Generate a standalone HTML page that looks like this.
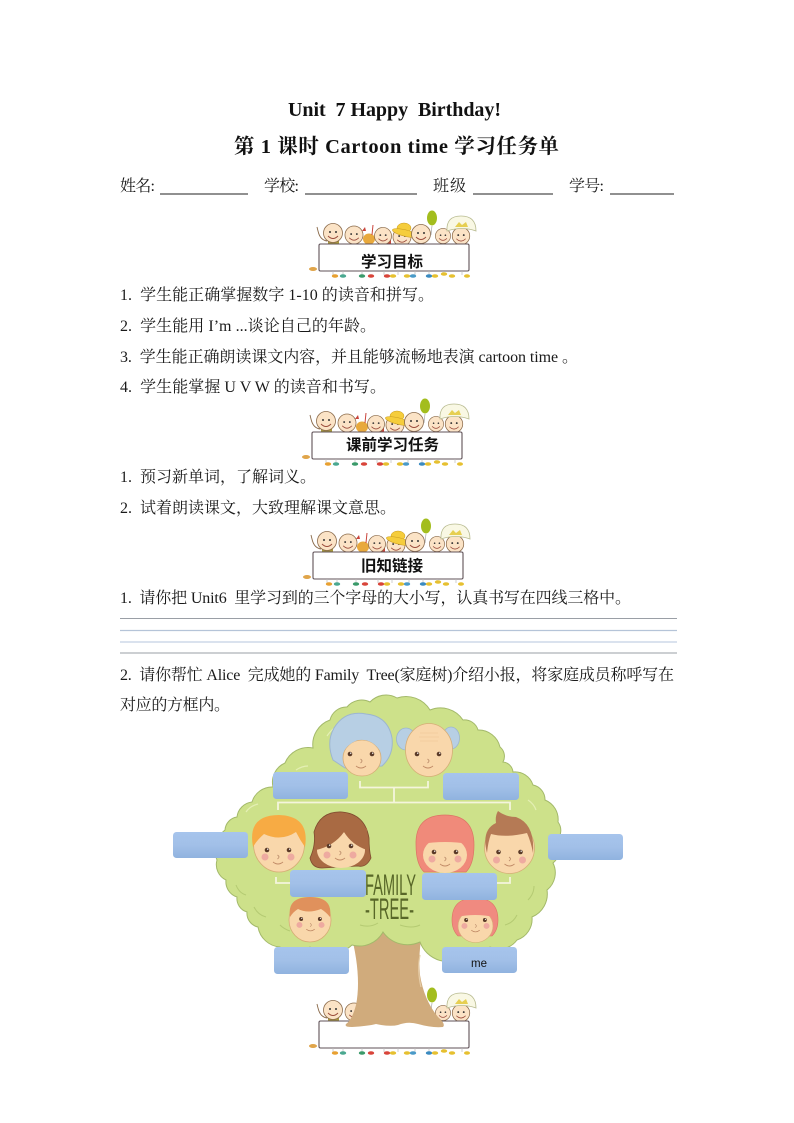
<!DOCTYPE html>
<html lang="zh">
<head>
<meta charset="utf-8">
<title>Unit 7 Happy Birthday</title>
<style>
html,body{margin:0;padding:0;background:#fff}
svg{display:block}
text{white-space:pre}
.b{font-family:"Liberation Serif","Noto Serif CJK SC",serif;font-size:16px;fill:#1a1a1a}
.t{font-family:"Liberation Serif","Noto Serif CJK SC",serif;font-weight:bold;fill:#111}
.h{font-family:"Liberation Serif","Noto Sans CJK SC",sans-serif;font-weight:bold;font-size:15.5px;fill:#111;text-anchor:middle}
</style>
</head>
<body>
<svg width="794" height="1123" viewBox="0 0 794 1123" xmlns="http://www.w3.org/2000/svg">
<defs>
<linearGradient id="bx" x1="0" y1="0" x2="0" y2="1">
  <stop offset="0" stop-color="#a6c4ec"/><stop offset=".5" stop-color="#a2c0e8"/><stop offset="1" stop-color="#90b3df"/>
</linearGradient>
<g id="ft">
  <circle cx="-11" cy="0" r="2.300" fill="#5a3a28"/><circle cx="11" cy="0" r="2.300" fill="#5a3a28"/>
  <circle cx="-10.300" cy="-.8" r=".7" fill="#fff"/><circle cx="11.700" cy="-.8" r=".7" fill="#fff"/>
  <path d="M-.5 5q3 2 0 4" fill="none" stroke="#b98a6a" stroke-width=".8"/>
  <path d="M-5 12q5 4 10 0" fill="none" stroke="#c08a66" stroke-width=".9"/>
</g>
<g id="ck">
  <circle cx="-13" cy="7" r="3.500" fill="#eeaaa0"/><circle cx="13" cy="7" r="3.500" fill="#eeaaa0"/>
</g>
<g id="kid"><circle r="9.500" fill="#fbe3c6" stroke="#8a6a4a" stroke-width=".8"/>
  <circle cx="-3" cy="-1" r="1" fill="#333"/><circle cx="3" cy="-1" r="1" fill="#333"/>
  <path d="M-5 3q5 5 10 0" fill="none" stroke="#9a4a3a" stroke-width=".9"/></g>
<g id="banner">
  <path d="M-1 -13l-1 -4M-1 -13q2 9 9 10" fill="none" stroke="#8a6a4a" stroke-width=".9"/>
  <rect x="9" y="-4" width="11" height="4" fill="#a89a3c"/>
  <rect x="62" y="-4" width="10" height="4" fill="#c9433a"/>
  <use href="#kid" x="14" y="-11"/>
  <g transform="translate(35 -9) scale(.95)"><use href="#kid"/></g>
  <path d="M43 -13l3 -4l1 4z" fill="#c9433a"/>
  <ellipse cx="50" cy="-5" rx="6" ry="5.500" fill="#e8a93c"/>
  <path d="M53 -9l1 -10" stroke="#c9433a" stroke-width="1"/>
  <g transform="translate(64 -8) scale(.9)"><use href="#kid"/></g>
  <g transform="translate(83 -7) scale(.95)"><use href="#kid"/></g>
  <ellipse cx="85" cy="-16" rx="7" ry="5" fill="#f5cd3c" stroke="#c99a20" stroke-width=".5"/>
  <ellipse cx="86" cy="-11" rx="13" ry="3.200" fill="#f5cd3c" stroke="#c99a20" stroke-width=".5" transform="rotate(14 86 -11)"/>
  <use href="#kid" x="102" y="-10"/>
  <g transform="translate(124 -8) scale(.8)"><use href="#kid"/></g>
  <g transform="translate(142 -8) scale(.92)"><use href="#kid"/></g>
  <path d="M128 -13q-1 -15 14 -15q15 0 15 15q-14 -5 -29 0z" fill="#f9f8e4" stroke="#b8bb90" stroke-width=".8"/>
  <path d="M136 -17l4 -5l3 3l4 -3l2 5z" fill="#e6cf52"/>
  <ellipse cx="113" cy="-26" rx="5" ry="7.500" fill="#a3bd1e"/>
  <path d="M113 -18l-1 9" stroke="#999" stroke-width=".6"/>
  <rect x="0" y="0" width="150" height="27" rx="1.500" fill="#fff" stroke="#5f5157" stroke-width="1.100"/>
  <ellipse cx="-6" cy="25" rx="4" ry="2" fill="#e0a54a"/>
  <path d="M14 27v4M24 27v4M43 27v4M65 27v4M79 27v4M96 27v4M110 27v4M124 27v4M143 27v4" stroke="#bbb" stroke-width=".7" fill="none"/>
  <g>
    <ellipse cx="16" cy="32" rx="3.200" ry="1.800" fill="#e8a030"/><ellipse cx="24" cy="32" rx="3.200" ry="1.800" fill="#4aa890"/>
    <ellipse cx="43" cy="32" rx="3.200" ry="1.800" fill="#3a9a6a"/><ellipse cx="52" cy="32" rx="3.200" ry="1.800" fill="#d8443a"/>
    <ellipse cx="68" cy="32" rx="3.200" ry="1.800" fill="#d8443a"/><ellipse cx="74" cy="32" rx="3.200" ry="1.800" fill="#e6c030"/>
    <ellipse cx="88" cy="32" rx="3.200" ry="1.800" fill="#e6c030"/><ellipse cx="94" cy="32" rx="3.200" ry="1.800" fill="#4a9ac8"/>
    <ellipse cx="110" cy="32" rx="3.200" ry="1.800" fill="#3a8ac0"/><ellipse cx="116" cy="32" rx="3.200" ry="1.800" fill="#e6c030"/>
    <ellipse cx="125" cy="30" rx="3.200" ry="1.800" fill="#e6c030"/><ellipse cx="133" cy="32" rx="3.200" ry="1.800" fill="#e6c030"/>
    <ellipse cx="148" cy="32" rx="3" ry="1.800" fill="#e6c030"/>
  </g>
</g>
</defs>

<!-- headings -->
<text class="t" x="288" y="116" font-size="20" textLength="213" lengthAdjust="spacing">Unit  7 Happy  Birthday!</text>
<text class="t" x="234" y="153" font-size="20.500" textLength="325" lengthAdjust="spacing">第 1 课时 Cartoon time 学习任务单</text>

<!-- info line -->
<text class="b" x="120" y="191" textLength="35">姓名:</text>
<text class="b" x="264" y="191" textLength="35">学校:</text>
<text class="b" x="433" y="191" textLength="33">班级</text>
<text class="b" x="569" y="191" textLength="35">学号:</text>
<path d="M160 194H248M305 194H417M473 194H553M610 194H674" stroke="#222" stroke-width="1" fill="none"/>

<!-- banners -->
<use href="#banner" x="319" y="244"/>
<text class="h" x="392" y="267">学习目标</text>
<use href="#banner" x="312" y="432"/>
<text class="h" x="392.500" y="450">课前学习任务</text>
<use href="#banner" x="313" y="552"/>
<text class="h" x="392" y="571">旧知链接</text>
<use href="#banner" x="319" y="1021"/>

<!-- body text -->
<text class="b" x="120" y="300" textLength="314">1.  学生能正确掌握数字 1-10 的读音和拼写。</text>
<text class="b" x="120" y="331" textLength="256">2.  学生能用 I’m ...谈论自己的年龄。</text>
<text class="b" x="120" y="362" textLength="458">3.  学生能正确朗读课文内容，并且能够流畅地表演 cartoon time 。</text>
<text class="b" x="120" y="392" textLength="266">4.  学生能掌握 U V W 的读音和书写。</text>
<text class="b" x="120" y="482" textLength="196">1.  预习新单词，了解词义。</text>
<text class="b" x="120" y="513" textLength="276">2.  试着朗读课文，大致理解课文意思。</text>
<text class="b" x="120" y="603" textLength="511">1.  请你把 Unit6  里学习到的三个字母的大小写，认真书写在四线三格中。</text>
<text class="b" x="120" y="680" textLength="554">2.  请你帮忙 Alice  完成她的 Family  Tree(家庭树)介绍小报，将家庭成员称呼写在</text>
<text class="b" x="120" y="710" textLength="110">对应的方框内。</text>

<!-- four lines -->
<path d="M120 618.500H677" stroke="#9a9fa6" stroke-width="1"/>
<path d="M120 630.500H677" stroke="#b5c4d8" stroke-width="1.200"/>
<path d="M120 642H677" stroke="#c3d1e4" stroke-width="1.200"/>
<path d="M120 653H677" stroke="#9a9fa6" stroke-width="1"/>

<!-- trunk -->
<path d="M350 930 Q362 975 356 1005 Q352 1020 346 1024 Q344 1027 352 1027 Q368 1026 376 1024 Q390 1027 398 1025 Q408 1021 418 1024 Q432 1028 443 1027 Q446 1024 438 1017 Q424 1000 420 975 Q418 950 423 930 Z" fill="#d0ab7c"/>
<path d="M420 955q-3 15 1 32" fill="none" stroke="#e6cda8" stroke-width="1.200"/>

<!-- canopy -->
<path d="M225 830 A14 14 0 0 1 237 817 A17 17 0 0 1 252 802 A21 21 0 0 1 273 787 A21 21 0 0 1 285 763 A25 25 0 0 1 313 748 A26 26 0 0 1 330 720 A17 17 0 0 1 347 707 A19 19 0 0 1 370 702 A22 22 0 0 1 397 698 A28 28 0 0 1 430 710 A27 27 0 0 1 463 720 A14 14 0 0 1 478 730 A22 22 0 0 1 500 747 A12 12 0 0 1 503 762 A11 11 0 0 1 513 772 A19 19 0 0 1 533 785 A15 15 0 0 1 545 800 A21 21 0 0 1 558 822 A14 14 0 0 1 557 840 A18 18 0 0 1 553 863 A22 22 0 0 1 547 890 A25 25 0 0 1 532 917 A22 22 0 0 1 517 940 A22 22 0 0 1 490 947 A19 19 0 0 1 467 955 A30 30 0 0 1 420 942 A30 30 0 0 1 383 932 A27 27 0 0 1 352 945 A33 33 0 0 1 310 947 A24 24 0 0 1 280 947 A24 24 0 0 1 258 927 A14 14 0 0 1 247 912 A14 14 0 0 1 237 897 A16 16 0 0 1 226 880 A17 17 0 0 1 217 860 A25 25 0 0 1 225 830 Z" fill="#cde18a" stroke="#a3b96a" stroke-width="1"/>
<g fill="none" stroke="#b4ca72" stroke-width="1">
  <path d="M236 885q3 8 10 10M254 907q4 8 12 10M280 925q4 4 10 6M360 925q10 3 18 -2M400 925q12 4 20 0M505 925q8 -2 12 -10M528 900q6 -6 6 -14"/>
</g>
<g fill="none" stroke="#e4efb4" stroke-width="1.200">
  <path d="M246 812q4 -6 12 -8M296 770q6 -4 12 -4M327 736q4 -6 10 -10M528 800q6 4 8 10"/>
</g>

<!-- connectors -->
<g fill="none" stroke="#f4f5dc" stroke-width="1.800">
  <path d="M360 781V787.500H428V781M394 787.500V802M278 810V802.500H510V810"/>
  <path d="M276 877V883H292M495 883H510V877"/>
</g>

<!-- FAMILY TREE -->
<text x="365" y="895" font-family="Liberation Sans,sans-serif" font-size="30" fill="#586728" textLength="51" lengthAdjust="spacingAndGlyphs">FAMILY</text>
<text x="365" y="919" font-family="Liberation Sans,sans-serif" font-size="30" fill="#586728" textLength="49" lengthAdjust="spacingAndGlyphs">-TREE-</text>

<!-- grandma -->
<path d="M333 760 Q326 742 334 728 Q345 710 366 714 Q388 716 392 738 Q394 755 382 766 L345 768 Z" fill="#b7cfe4" stroke="#9db6cf" stroke-width="1"/>
<ellipse cx="362" cy="758" rx="19" ry="18" fill="#f9d7ab" stroke="#d6ad76" stroke-width=".8"/>
<path d="M343 753 Q347 744 358 740 Q372 738 381 752 L384 732 L342 732 Z" fill="#b7cfe4"/>
<use href="#ft" x="361" y="754"/>

<!-- grandpa -->
<ellipse cx="406" cy="739" rx="9.500" ry="11" fill="#b7cfe4" stroke="#9db6cf" stroke-width=".8"/>
<ellipse cx="451" cy="738" rx="8.500" ry="11" fill="#b7cfe4" stroke="#9db6cf" stroke-width=".8"/>
<ellipse cx="429" cy="750" rx="23.500" ry="26.500" fill="#f9d7ab" stroke="#d6ad76" stroke-width=".8"/>
<path d="M420 733h18M419 737h20M420 741h18" stroke="#efc99c" stroke-width=".7" fill="none"/>
<use href="#ft" x="428" y="754"/>

<!-- dad (orange) -->
<ellipse cx="279" cy="844" rx="25.500" ry="28" fill="#f9d7ab" stroke="#d6ad76" stroke-width=".8"/>
<path d="M253 847 Q247 815 279 815 Q310 816 305 847 Q300 840 296 832 Q281 842 264 834 Q257 840 253 847Z" fill="#f7ab44"/>
<use href="#ck" x="278" y="850"/>
<use href="#ft" x="278" y="850"/>

<!-- mom (brown) -->
<path d="M310 858 Q316 845 314 832 Q320 811 342 812 Q365 814 369 838 Q369 850 371 858 Q366 868 358 866 L322 868 Q312 868 310 858Z" fill="#a96a43" stroke="#7f4c2f" stroke-width=".8"/>
<ellipse cx="341" cy="850" rx="24" ry="18" fill="#f9d7ab"/>
<path d="M316 850 Q334 846 344 832 Q352 845 367 850 L367 828 L316 828Z" fill="#a96a43"/>
<use href="#ck" x="340" y="848"/>
<use href="#ft" x="340" y="846"/>

<!-- aunt (pink) -->
<path d="M416 845 Q415 815 445 815 Q474 815 474 845 Q474 864 466 872 L424 872 Q416 864 416 845Z" fill="#f08a7a" stroke="#dc7464" stroke-width=".7"/>
<ellipse cx="445" cy="855" rx="22" ry="18" fill="#f9d7ab"/>
<path d="M421 844 Q445 840 469 844 L469 832 L421 832Z" fill="#f08a7a"/>
<use href="#ck" x="445" y="852"/>
<use href="#ft" x="445" y="852"/>

<!-- uncle -->
<ellipse cx="509.500" cy="848" rx="25" ry="25.500" fill="#f9d7ab" stroke="#d6ad76" stroke-width=".8"/>
<path d="M487 853 Q481 830 496 823 Q495 816 498 811 Q506 817 516 817 Q535 824 533 853 Q531 842 527 833 Q506 838 491 834 Q488 842 487 853Z" fill="#b57a55"/>
<use href="#ck" x="509.500" y="853"/>
<use href="#ft" x="509.500" y="852"/>

<!-- boy -->
<ellipse cx="310" cy="920" rx="21" ry="22" fill="#f9d7ab" stroke="#d6ad76" stroke-width=".8"/>
<path d="M290 917 Q287 897 310 897 Q333 897 330 917 Q326 912 321 909 Q308 914 298 909 Q293 912 290 917Z" fill="#e0915c"/>
<g transform="translate(310.500 919) scale(.85)"><use href="#ck"/><use href="#ft"/></g>

<!-- girl -->
<path d="M452 920 Q452 898 475 898 Q498 898 498 920 Q498 930 492 936 L458 936 Q452 930 452 920Z" fill="#f08a80" stroke="#dc7464" stroke-width=".6"/>
<ellipse cx="475.500" cy="926" rx="17.500" ry="16.500" fill="#f9d7ab" stroke="#d6ad76" stroke-width=".6"/>
<path d="M457 917 V906 H494 V917 Q475 913 457 917Z" fill="#f08a80"/>
<g transform="translate(475.500 920) scale(.85)"><use href="#ck"/><use href="#ft"/></g>

<!-- label boxes -->
<g fill="url(#bx)">
  <rect x="273" y="772" width="75" height="27" rx="3.500"/>
  <rect x="443" y="773" width="76" height="27" rx="3.500"/>
  <rect x="173" y="832" width="75" height="26" rx="3.500"/>
  <rect x="548" y="834" width="75" height="26" rx="3.500"/>
  <rect x="290" y="870" width="76" height="27" rx="3.500"/>
  <rect x="422" y="873" width="75" height="27" rx="3.500"/>
  <rect x="274" y="947" width="75" height="27" rx="3.500"/>
  <rect x="442" y="947" width="75" height="26" rx="3.500"/>
</g>
<text x="479" y="967" font-family="Liberation Sans,sans-serif" font-size="11.500" fill="#111" text-anchor="middle">me</text>
</svg>
</body>
</html>
